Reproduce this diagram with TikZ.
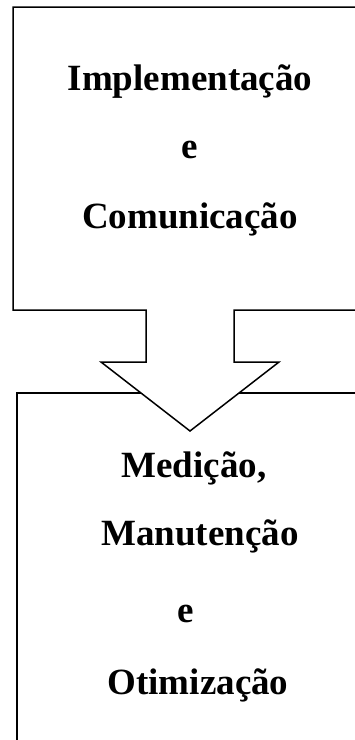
\documentclass[tikz,border=0pt]{standalone}
\usepackage{fontspec}
\setmainfont{Liberation Serif}

\begin{document}
\begin{tikzpicture}[x=1pt,y=-1pt,line width=1.5pt,line join=miter,
        lbl/.style={anchor=base,inner sep=0pt,font=\fontsize{37}{37}\selectfont\bfseries}]

  \useasboundingbox (0,0) rectangle (355,740);
  \clip (0,0) rectangle (355,740);

  \draw (365,393) -- (17,393) -- (17,750);
  \draw[fill=white] (365,7) -- (13,7) -- (13,310) -- (146,310) -- (146,362)
        -- (101,362) -- (190,431) -- (279,362) -- (234,362) -- (234,310) -- (365,310);

  \node[lbl] (impl) at (190,90) {Implementação};
  \node[lbl] (e_1) at (190,158) {e};
  \node[lbl] (comu) at (190,228) {Comunicação};

  \node[lbl] (medi) at (194,477) {Medição,};
  \node[lbl] (manu) at (200,545) {Manutenção};
  \node[lbl] (e_2) at (186,622) {e};
  \node[lbl] (otim) at (198,694) {Otimização};

\end{tikzpicture}
\end{document}
